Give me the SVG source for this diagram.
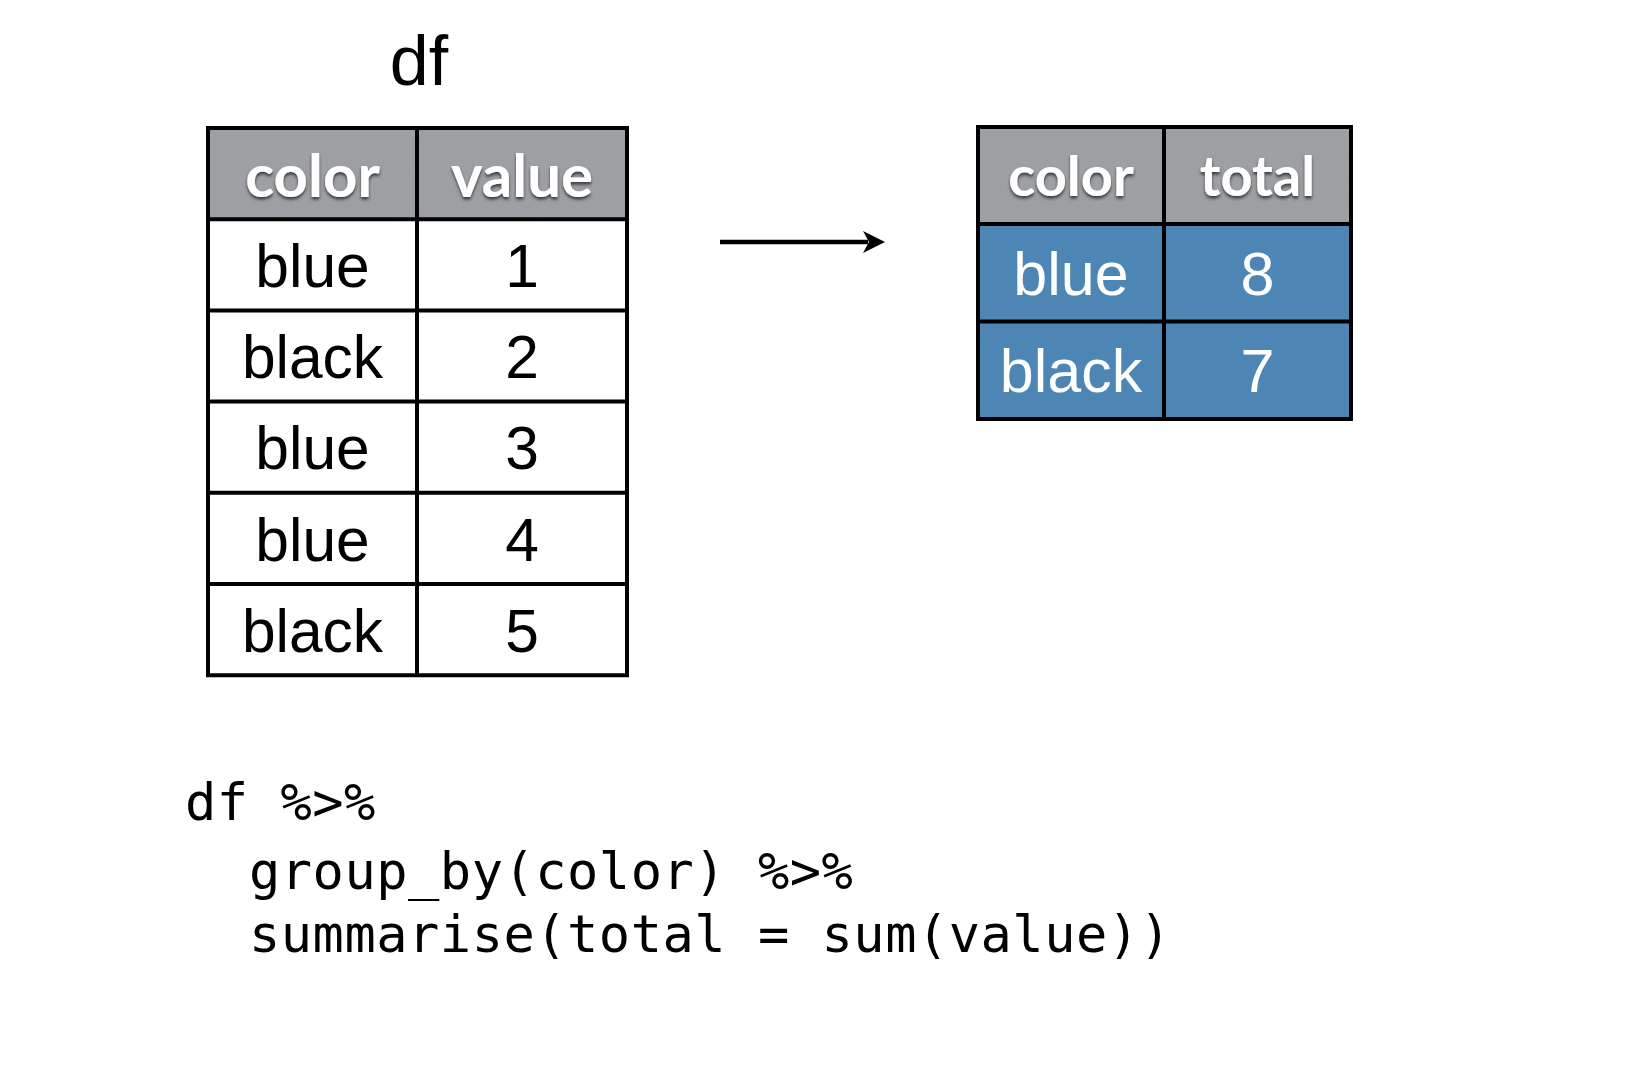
<svg xmlns="http://www.w3.org/2000/svg" width="1632" height="1084" viewBox="0 0 1632 1084">
  <style>
    .hdr { fill: #9b9fa2; }
    .body { fill: #ffffff; }
    .sum { fill: #4d86b4; }
    .grid { fill: none; stroke: #000; stroke-width: 4; }
    .htxt { font-family: Lato, "Open Sans", sans-serif; font-weight: bold; fill: #ffffff; text-anchor: middle; filter: url(#emboss); }
    .cell { font-family: "Liberation Sans", Arial, sans-serif; font-size: 60.5px; text-anchor: middle; fill: #000; }
    .cellw { font-family: "Liberation Sans", Arial, sans-serif; font-size: 61px; text-anchor: middle; fill: #ffffff; }
    .code { font-family: "DejaVu Sans Mono", "Liberation Mono", monospace; font-size: 52px; letter-spacing: 0.5px; fill: #000; }
  </style>
  <defs>
    <filter id="emboss" x="-10%" y="-20%" width="120%" height="150%">
      <feDropShadow dx="0" dy="2.5" stdDeviation="1.6" flood-color="#2a2a2a" flood-opacity="0.85"/>
    </filter>
    <filter id="grain" x="0" y="0" width="100%" height="100%">
      <feTurbulence type="fractalNoise" baseFrequency="0.9" numOctaves="2" seed="3" result="n"/>
      <feColorMatrix in="n" type="matrix" values="0 0 0 0 0.5  0 0 0 0 0.5  0 0 0 0 0.5  0 0 0 0.12 0" result="g"/>
      <feComposite in="g" in2="SourceGraphic" operator="in" result="gc"/>
      <feMerge><feMergeNode in="SourceGraphic"/><feMergeNode in="gc"/></feMerge>
    </filter>
  </defs>

  <rect width="1632" height="1084" fill="#ffffff"/>

  <!-- title above the input table -->
  <g id="title">
    <text x="419" y="85" font-family="'Liberation Sans', Arial, sans-serif" font-size="70" text-anchor="middle">df</text>
  </g>

  <!-- input data frame -->
  <g id="table-df">
    <rect class="hdr" x="208" y="128" width="419" height="91.2" filter="url(#grain)"/>
    <rect class="body" x="208" y="219.2" width="419" height="456"/>
    <path class="grid" d="M208 128H627V675.2H208Z M417 128V675.2 M208 219.2H627 M208 310.4H627 M208 401.6H627 M208 492.8H627 M208 584H627"/>
    <text class="htxt" x="312.5" y="197" font-size="60">color</text>
    <text class="htxt" x="522" y="197" font-size="60">value</text>
    <text class="cell" x="312.5" y="287">blue</text>
    <text class="cell" x="522" y="287">1</text>
    <text class="cell" x="312.5" y="378.2">black</text>
    <text class="cell" x="522" y="378.2">2</text>
    <text class="cell" x="312.5" y="469.4">blue</text>
    <text class="cell" x="522" y="469.4">3</text>
    <text class="cell" x="312.5" y="560.6">blue</text>
    <text class="cell" x="522" y="560.6">4</text>
    <text class="cell" x="312.5" y="651.8">black</text>
    <text class="cell" x="522" y="651.8">5</text>
  </g>

  <!-- summarised result -->
  <g id="table-summary">
    <rect class="hdr" x="978" y="127" width="373" height="97" filter="url(#grain)"/>
    <rect class="sum" x="978" y="224" width="373" height="195"/>
    <path class="grid" d="M978 127H1351V419H978Z M1164 127V419 M978 224H1351 M978 321.5H1351"/>
    <text class="htxt" x="1071" y="196" font-size="56">color</text>
    <text class="htxt" x="1257.5" y="196" font-size="56">total</text>
    <text class="cellw" x="1071" y="295">blue</text>
    <text class="cellw" x="1257.5" y="295">8</text>
    <text class="cellw" x="1071" y="392">black</text>
    <text class="cellw" x="1257.5" y="392">7</text>
  </g>

  <!-- connectors -->
  <g id="connectors">
    <line x1="720" y1="242" x2="868" y2="242" stroke="#000" stroke-width="4.5"/>
    <path d="M885 242 L863 231 L869 242 L863 253 Z" fill="#000"/>
  </g>

  <!-- R code -->
  <g id="code">
    <text class="code" x="185" y="820">df %&gt;%</text>
    <text class="code" x="249" y="889">group_by(color) %&gt;%</text>
    <text class="code" x="249" y="952">summarise(total = sum(value))</text>
  </g>
</svg>
